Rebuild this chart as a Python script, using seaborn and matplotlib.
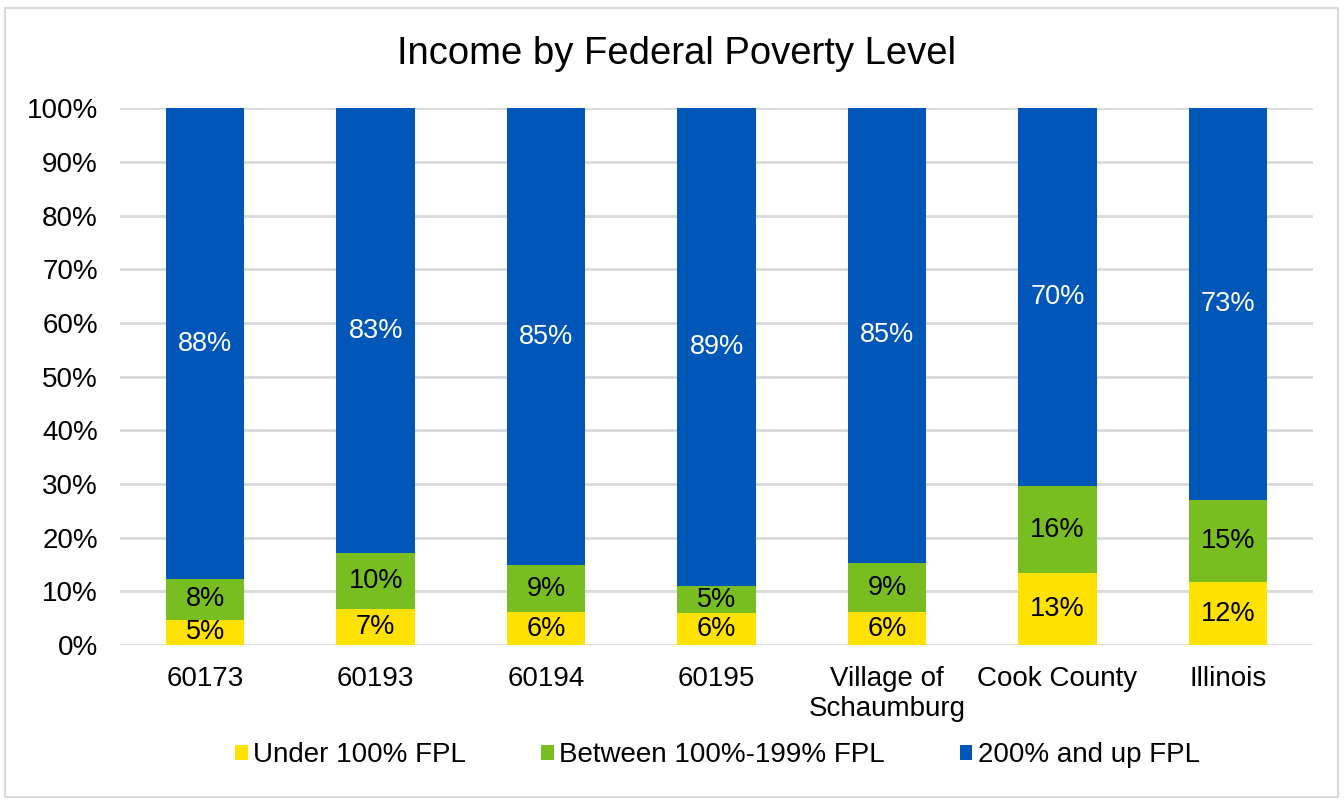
import matplotlib
matplotlib.use("Agg")
import matplotlib.pyplot as plt
from matplotlib.patches import Patch, Rectangle
from matplotlib.ticker import FuncFormatter, MultipleLocator
import numpy as np
import seaborn as sns

# Share of population by income relative to the Federal Poverty Level (%)
categories = ["60173", "60193", "60194", "60195", "Village of\nSchaumburg", "Cook County", "Illinois"]
under_100 = [4.7, 6.7, 6.1, 5.9, 6.1, 13.4, 11.7]
between_100_199 = [7.6, 10.4, 8.8, 5.1, 9.2, 16.2, 15.3]
above_200 = [87.7, 82.9, 85.1, 89.0, 84.7, 70.4, 73.0]
series_names = ["Under 100% FPL", "Between 100%-199% FPL", "200% and up FPL"]
series_colors = ["#FFE200", "#78BE20", "#0057B8"]
label_colors = ["black", "black", "white"]

sns.set_theme(style="white")
plt.rcParams["font.family"] = ["Liberation Sans", "DejaVu Sans"]
plt.rcParams["text.color"] = "black"

fig = plt.figure(figsize=(13.44, 8.01), dpi=100)
ax = fig.add_axes([0.0893, 0.1948, 0.8877, 0.6702])

series = [under_100, between_100_199, above_200]
bottom = np.zeros(len(categories))
for vals, name, col, lcol in zip(series, series_names, series_colors, label_colors):
    vals = np.asarray(vals, dtype=float)
    sns.barplot(x=categories, y=vals, bottom=bottom, color=col, width=0.46,
                errorbar=None, saturation=1, linewidth=0, ax=ax, zorder=3)
    for i, (v, b) in enumerate(zip(vals, bottom)):
        ax.text(i, b + v / 2, f"{v:.0f}%", ha="center", va="center",
                fontsize=19.5, color=lcol, zorder=4)
    bottom = bottom + vals

ax.set_ylim(0, 100)
ax.set_xlim(-0.5, len(categories) - 0.5)
ax.yaxis.set_major_locator(MultipleLocator(10))
ax.yaxis.set_major_formatter(FuncFormatter(lambda v, _: f"{v:.0f}%"))
ax.grid(axis="y", color="#D9D9D9", linewidth=2, zorder=0)
ax.set_axisbelow(True)
for s in ax.spines.values():
    s.set_visible(False)
ax.tick_params(axis="both", length=0, labelsize=20, colors="black")
ax.tick_params(axis="y", pad=16)
ax.tick_params(axis="x", pad=15)
ax.set_xlabel("")
ax.set_ylabel("")

fig.suptitle("Income by Federal Poverty Level", x=0.503, y=0.933, fontsize=27.5,
             va="center", color="black")

handles = [Patch(facecolor=c, edgecolor="none", label=n) for n, c in zip(series_names, series_colors)]
fig.legend(handles=handles, loc="center", bbox_to_anchor=(0.534, 0.0574), ncol=3,
           frameon=False, fontsize=20, handlelength=0.45, handleheight=0.45,
           handletextpad=0.2, columnspacing=2.7, labelcolor="black")

fig.patches.append(Rectangle((5 / 1344, 4 / 801), 1333 / 1344, 789 / 801,
                             transform=fig.transFigure, fill=False,
                             edgecolor="#D9D9D9", linewidth=1.5))

fig.savefig("out.png", dpi=100, facecolor="white")
